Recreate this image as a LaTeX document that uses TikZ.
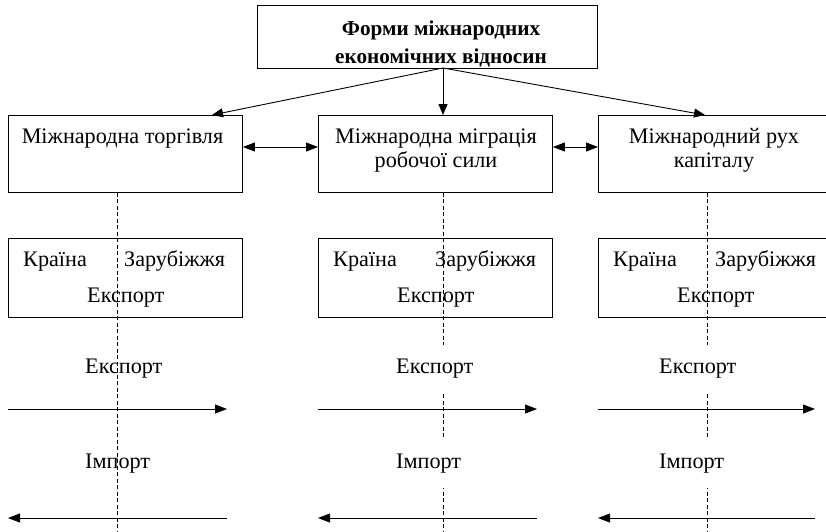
\documentclass[tikz,border=0pt]{standalone}
\usepackage{fontspec}
\setmainfont{Liberation Serif}
\usetikzlibrary{arrows.meta}
\begin{document}
\begin{tikzpicture}[x=1pt,y=-1pt,
  every node/.style={inner sep=0pt, font=\fontsize{22.2}{26}\selectfont},
  frame/.style={draw, line width=0.9pt, rectangle, anchor=north west,
    minimum width=234pt, minimum height=77pt},
  heading/.style={font=\fontsize{21.2}{25}\selectfont\bfseries, anchor=base},
  ctext/.style={anchor=base},
  ltext/.style={anchor=base west},
  masked/.style={anchor=base west, fill=white, text height=28pt, text depth=20pt, inner xsep=1pt},
  link/.style={line width=0.9pt, -{Triangle[length=11pt,width=9pt]}},
  twoway/.style={line width=0.9pt, {Triangle[length=12pt,width=9pt]}-{Triangle[length=12pt,width=9pt]}},
  flow/.style={line width=0.9pt, -{Triangle[length=12pt,width=9pt]}},
  axis/.style={line width=0.9pt, dash pattern=on 4pt off 2.5pt}
]
\clip (0,0) rectangle (826,531);
\fill[white] (0,0) rectangle (826,531);

% heading box
\node[frame, minimum width=340pt, minimum height=63pt] (top) at (257,5) {};
\node[heading] (h1) at (441,35) {Форми міжнародних};
\node[heading] (h2) at (441,63) {економічних відносин};
\coordinate (src) at (443,68);

% three forms
\node[frame, minimum height=77pt] (trade) at (8,115) {};
\node[frame, minimum height=77pt] (labour) at (318,115) {};
\node[frame, minimum height=77pt] (capital) at (598,115) {};
\node[ctext] (tradeA) at (122.5,143) {Міжнародна торгівля};
\node[ctext] (labourA) at (436,143) {Міжнародна міграція};
\node[ctext] (labourB) at (436,167) {робочої сили};
\node[ctext] (capitalA) at (714,143) {Міжнародний рух};
\node[ctext] (capitalB) at (714,167) {капіталу};

\coordinate (inT) at (212,115);
\coordinate (inL) at (443,115);
\coordinate (inC) at (705,115);
\draw[link] (src) -- (inT);
\draw[link] (src) -- (inL);
\draw[link] (src) -- (inC);

\draw[twoway] (trade.east |- 0,147) -- (labour.west |- 0,147);
\draw[twoway] (labour.east |- 0,147) -- (capital.west |- 0,147);

% country / abroad boxes
\node[frame, minimum height=79pt] (sideT) at (8,238) {};
\node[frame, minimum height=79pt] (sideL) at (318,238) {};
\node[frame, minimum height=79pt] (sideC) at (598,238) {};
\node[ltext] (kT) at (23,266) {Країна};
\node[ltext] (zT) at (124,266) {Зарубіжжя};
\node[ltext] (eT) at (87,302) {Експорт};
\node[ltext] (kL) at (333,266) {Країна};
\node[ltext] (zL) at (435,266) {Зарубіжжя};
\node[ltext] (eL) at (397,302) {Експорт};
\node[ltext] (kC) at (613,266) {Країна};
\node[ltext] (zC) at (715,266) {Зарубіжжя};
\node[ltext] (eC) at (677,302) {Експорт};

% flows, first column
\node[ltext] (xT) at (85,373) {Експорт};
\node[ltext] (iT) at (85,468) {Імпорт};
\coordinate (xT0) at (8,409);   \coordinate (xT1) at (227,409);
\coordinate (iT0) at (227,518); \coordinate (iT1) at (8,518);
\draw[flow] (xT0) -- (xT1);
\draw[flow] (iT0) -- (iT1);

% flows, second column
\coordinate (xL0) at (318,409); \coordinate (xL1) at (537,409);
\coordinate (iL0) at (537,518); \coordinate (iL1) at (318,518);
\draw[flow] (xL0) -- (xL1);
\draw[flow] (iL0) -- (iL1);

% flows, third column
\coordinate (xC0) at (598,409); \coordinate (xC1) at (815,409);
\coordinate (iC0) at (815,518); \coordinate (iC1) at (598,518);
\draw[flow] (xC0) -- (xC1);
\draw[flow] (iC0) -- (iC1);

% border lines between country and abroad
\coordinate (bT) at (117,531);
\coordinate (bL) at (443,531);
\coordinate (bC) at (707,531);
\draw[axis] (trade.south -| bT) -- (bT);
\draw[axis] (labour.south -| bL) -- (bL);
\draw[axis] (capital.south -| bC) -- (bC);

% labels that sit on a white ground over the border lines
\node[masked] (xL) at (395,373) {Експорт};
\node[masked] (iL) at (395,468) {Імпорт};
\node[masked] (xC) at (658,373) {Експорт};
\node[masked] (iC) at (658,468) {Імпорт};
\end{tikzpicture}
\end{document}
